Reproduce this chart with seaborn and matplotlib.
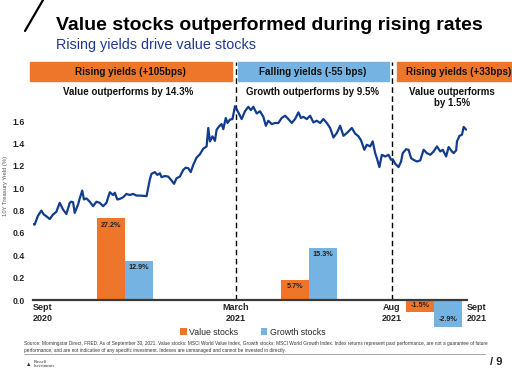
import numpy as np
import pandas as pd
import matplotlib.pyplot as plt
import seaborn as sns
from matplotlib.patches import Rectangle
from matplotlib.lines import Line2D
import matplotlib.transforms as mtransforms

# 10Y Treasury yield (%), x = weeks since end of Sept 2020
weeks = [0.0, 0.2, 0.6, 1.0, 1.3, 1.6, 2.0, 2.4, 2.8, 3.2, 3.6, 4.0, 4.4, 4.6, 4.8,
         5.0, 5.4, 5.6, 5.9, 6.1, 6.4, 6.8, 7.2, 7.6, 8.0, 8.4, 8.8, 9.2, 9.6, 9.8,
         10.1, 10.4, 10.8, 11.2, 11.6, 12.0, 12.4, 12.8, 13.6, 14.0, 14.2, 14.6, 14.9,
         15.2, 15.4, 15.8, 16.2, 16.6, 16.9, 17.2, 17.6, 18.0, 18.3, 18.6, 18.9, 19.2,
         19.6, 20.0, 20.4, 20.8, 21.0, 21.2, 21.5, 21.8, 22.0, 22.3, 22.6, 22.8, 23.1,
         23.3, 23.6, 23.9, 24.2, 24.6, 25.0, 25.4, 25.8, 26.1, 26.4, 26.8, 27.2, 27.6,
         27.9, 28.2, 28.6, 29.0, 29.4, 29.8, 30.2, 30.6, 31.0, 31.4, 31.8, 32.1, 32.4,
         32.8, 33.2, 33.6, 34.0, 34.4, 34.8, 35.2, 35.6, 36.0, 36.4, 36.8, 37.2, 37.6,
         38.2, 38.6, 39.0, 39.3, 39.7, 40.0, 40.4, 40.7, 41.0, 41.2, 41.5, 41.8, 42.2,
         42.6, 42.9, 43.1, 43.4, 43.8, 44.1, 44.3, 44.7, 45.0, 45.3, 45.6, 46.0, 46.4,
         46.8, 47.2, 47.6, 48.0, 48.4, 48.8, 49.1, 49.5, 49.8, 50.2, 50.4, 50.7, 50.8,
         51.1, 51.4, 51.6, 51.9]
yields = [0.68, 0.675, 0.755, 0.80, 0.765, 0.75, 0.725, 0.765, 0.79, 0.87, 0.81, 0.77, 0.87, 0.88, 0.875,
          0.78, 0.855, 0.91, 0.98, 0.90, 0.91, 0.88, 0.84, 0.88, 0.87, 0.84, 0.87, 0.965, 0.94, 0.96,
          0.90, 0.905, 0.92, 0.95, 0.94, 0.95, 0.935, 0.935, 0.93, 1.08, 1.13, 1.145, 1.12,
          1.135, 1.10, 1.11, 1.105, 1.07, 1.04, 1.09, 1.105, 1.165, 1.185, 1.18, 1.145, 1.21,
          1.275, 1.305, 1.355, 1.375, 1.54, 1.42, 1.465, 1.425, 1.525, 1.555, 1.575, 1.53, 1.63,
          1.585, 1.615, 1.62, 1.735, 1.68, 1.62, 1.69, 1.73, 1.70, 1.73, 1.67, 1.69, 1.64,
          1.56, 1.605, 1.575, 1.585, 1.585, 1.63, 1.65, 1.62, 1.585, 1.62, 1.68, 1.63, 1.64,
          1.62, 1.65, 1.59, 1.605, 1.585, 1.62, 1.585, 1.54, 1.455, 1.495, 1.56, 1.47, 1.495,
          1.54, 1.49, 1.465, 1.43, 1.345, 1.39, 1.375, 1.42, 1.315, 1.27, 1.19, 1.30, 1.285,
          1.30, 1.255, 1.26, 1.22, 1.19, 1.24, 1.315, 1.35, 1.345, 1.27, 1.255, 1.24, 1.25,
          1.345, 1.315, 1.30, 1.33, 1.375, 1.33, 1.345, 1.285, 1.37, 1.33, 1.315, 1.34, 1.42,
          1.47, 1.48, 1.55, 1.525]

# period returns
period_mid = [11.0, 33.1, 48.1]
value_pct = [27.2, 5.7, -1.5]
growth_pct = [12.9, 15.3, -2.9]
# bar heights on the yield axis as drawn in the original (not to scale)
value_height = [0.73, 0.18, -0.11]
growth_height = [0.35, 0.47, -0.24]

header_labels = ['Rising yields (+105bps)', 'Falling yields (-55 bps)', 'Rising yields (+33bps)']
summary_labels = ['Value outperforms by 14.3%', 'Growth outperforms by 9.5%', 'Value outperforms\nby 1.5%']
boundaries = [24.3, 43.0]
tick_pos = [0, 24.3, 43.0, 52]
tick_labels = ['Sept\n2020', 'March\n2021', 'Aug\n2021', 'Sept\n2021']

ORANGE = '#EE762A'
BLUE = '#75B3E3'
NAVY = '#123C8C'

sns.set_style('white')
plt.rcParams['font.family'] = ['Liberation Sans', 'DejaVu Sans']

fig = plt.figure(figsize=(5.12, 3.71), dpi=100)
ax = fig.add_axes([33 / 512, 1 - 300 / 371, 434 / 512, 238 / 371])

bars = pd.DataFrame({
    'week': period_mid * 2,
    'height': value_height + growth_height,
    'style': ['Value stocks'] * 3 + ['Growth stocks'] * 3,
})
sns.barplot(data=bars, x='week', y='height', hue='style', hue_order=['Value stocks', 'Growth stocks'],
            palette={'Value stocks': ORANGE, 'Growth stocks': BLUE}, native_scale=True,
            orient='x', width=0.447, gap=0, saturation=1, errorbar=None, linewidth=0, ax=ax)
for cont, pct in zip(ax.containers, [value_pct, growth_pct]):
    for p in cont.patches:
        p.set_clip_on(False)
    anns = ax.bar_label(cont, labels=[f'{v}%' for v in pct], padding=-7.5, fontsize=5.2,
                        fontweight='bold', color='#222222')
    for a in anns:
        a.set_annotation_clip(False)
        a.set_clip_on(False)

sns.lineplot(x=weeks, y=yields, color=NAVY, linewidth=1.6, ax=ax)

for b in boundaries:
    ax.axvline(b, color='black', linestyle=(0, (4, 2.5)), linewidth=1.0, zorder=1)

ax.set_xlim(0, 52)
ax.set_ylim(0, 2.131)
ax.set_yticks(np.arange(0, 1.61, 0.2))
ax.set_yticklabels([f'{v:.1f}' for v in np.arange(0, 1.61, 0.2)], fontweight='bold', fontsize=6.3)
ax.set_xticks(tick_pos)
ax.set_xticklabels(tick_labels, fontweight='bold', fontsize=6.5, linespacing=1.25)
xl = ax.get_xticklabels()
xl[0].set_ha('left')
xl[-1].set_ha('left')
ax.tick_params(axis='y', length=0, pad=6)
ax.tick_params(axis='x', length=0, pad=2)
ax.set_xlabel('')
ax.set_ylabel('10Y Treasury Yield (%)', fontsize=4.2, color='#555555')
ax.yaxis.set_label_coords(-0.058, 0.48)
for s in ['left', 'right', 'top']:
    ax.spines[s].set_visible(False)
ax.spines['bottom'].set_color('#3a3a3a')
ax.spines['bottom'].set_linewidth(1.6)

# header bands
trans = mtransforms.blended_transform_factory(ax.transData, ax.transAxes)
bands = [(-0.36, 23.84, ORANGE), (24.56, 42.65, BLUE), (43.61, 57.4, ORANGE)]
for (x0, x1, c), lab in zip(bands, header_labels):
    ax.add_patch(Rectangle((x0, 0.921), x1 - x0, 0.077, transform=trans, color=c, clip_on=False, zorder=3))
header_x = [11.7, 33.5, 51.0]
for x, lab in zip(header_x, header_labels):
    ax.text(x, 0.959, lab, transform=trans, ha='center', va='center', fontsize=7.1, fontweight='bold',
            color='#111111', zorder=4)
summary_x = [11.4, 33.5, 50.2]
for x, lab in zip(summary_x, summary_labels):
    ax.text(x, 0.895, lab, transform=trans, ha='center', va='top', fontsize=7.0, fontweight='bold',
            color='#111111', linespacing=1.15)

sns.move_legend(ax, 'center', bbox_to_anchor=(0.494, 0.105), bbox_transform=fig.transFigure, ncol=2,
                frameon=False, title=None, fontsize=6.3, handlelength=0.7, handleheight=0.7,
                handletextpad=0.3, columnspacing=2.6)

# titles and decorations
fig.add_artist(Line2D([25 / 512, 43 / 512], [1 - 31 / 371, 1.0], color='black', linewidth=1.6))
fig.text(56 / 512, 1 - 30 / 371, 'Value stocks outperformed during rising rates', fontsize=14,
         fontweight='bold', color='black', va='baseline')
fig.text(56 / 512, 1 - 48.5 / 371, 'Rising yields drive value stocks', fontsize=10.4, color='#1F3A8F',
         va='baseline')

footer = ('Source: Morningstar Direct, FRED. As of September 30, 2021. Value stocks: MSCI World Value Index, '
          'Growth stocks: MSCI World Growth Index. Index returns represent past performance, are not a guarantee of future\n'
          'performance, and are not indicative of any specific investment. Indexes are unmanaged and cannot be invested in directly.')
fig.text(24 / 512, 1 - 341 / 371, footer, fontsize=3.4, color='#333333', va='top', linespacing=1.5)
fig.add_artist(Line2D([24 / 512, 485 / 512], [1 - 354 / 371] * 2, color='#999999', linewidth=0.6))
fig.text(34 / 512, 1 - 364 / 371, 'Russell\nInvestments', fontsize=3.2, family='Liberation Serif',
         color='#333333', va='center', linespacing=1.0)
fig.text(26 / 512, 1 - 365 / 371, '\u25B2', fontsize=4, color='#333333', va='center')
fig.text(490 / 512, 1 - 362 / 371, '/ 9', fontsize=8, fontweight='bold', color='#222222', va='center')

fig.savefig('out.png', dpi=100)
